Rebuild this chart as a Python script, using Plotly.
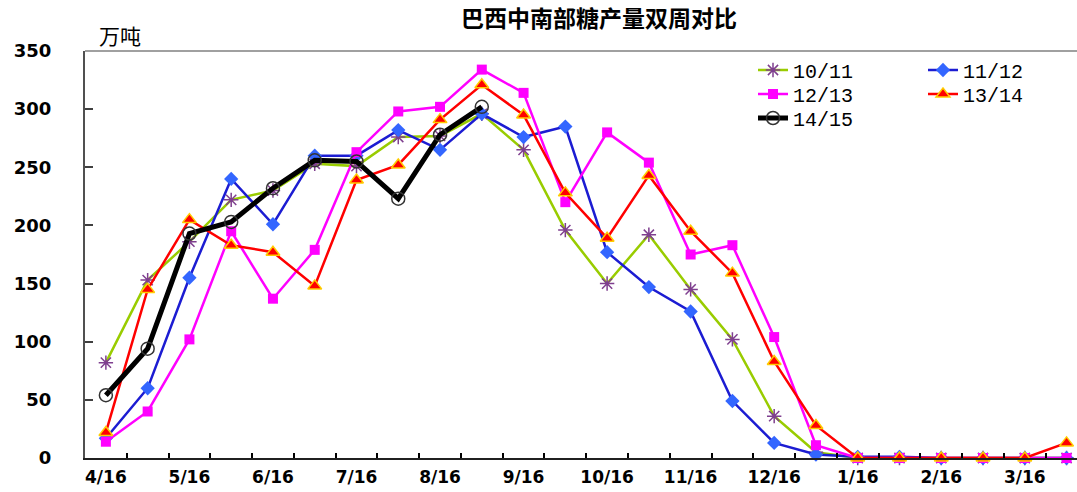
import plotly.graph_objects as go

# Biweekly sugar output in centre-south Brazil, 10k tonnes (万吨)
periods = list(range(24))  # two points per month, starting 4/16
month_labels = ["4/16", "5/16", "6/16", "7/16", "8/16", "9/16",
                "10/16", "11/16", "12/16", "1/16", "2/16", "3/16"]

s_10_11 = [82, 153, 186, 222, 230, 253, 251, 276, 277, 296, 265, 196,
           150, 192, 145, 102, 36, 5, 0, 0, 0, 0, 0, 0]
s_11_12 = [17, 60, 155, 240, 201, 260, 260, 282, 265, 296, 276, 285,
           177, 147, 126, 49, 13, 3, 1, 1, 0, 0, 0, 0]
s_12_13 = [14, 40, 102, 195, 137, 179, 263, 298, 302, 334, 314, 220,
           280, 254, 175, 183, 104, 11, 0, 0, 0, 0, 0, 0]
s_13_14 = [22, 145, 205, 183, 177, 148, 239, 252, 291, 321, 295, 228,
           189, 243, 195, 159, 83, 28, 0, 0, 0, 0, 0, 13]
s_14_15 = [54, 94, 193, 203, 232, 256, 255, 223, 278, 302]

W, H = 1077, 492
L, R, T, B = 85, 0, 51, 34
plot_w = W - L - R
plot_h = H - T - B


def px_x(px):
    return (px - L) / plot_w


def px_y(py):
    return (H - B - py) / plot_h


fig = go.Figure()

fig.add_trace(go.Scatter(
    x=periods, y=s_10_11, name="10/11", mode="lines+markers",
    line=dict(color="#99CC00", width=2.5),
    marker=dict(symbol="asterisk-open", size=12, color="#7F3F8F",
                line=dict(color="#7F3F8F", width=1.5)),
    legend="legend", cliponaxis=False))
fig.add_trace(go.Scatter(
    x=periods, y=s_11_12, name="11/12", mode="lines+markers",
    line=dict(color="#1C1CD2", width=2.5),
    marker=dict(symbol="diamond", size=11, color="#3366FF"),
    legend="legend", cliponaxis=False))
fig.add_trace(go.Scatter(
    x=periods, y=s_12_13, name="12/13", mode="lines+markers",
    line=dict(color="#FF00FF", width=2.5),
    marker=dict(symbol="square", size=10, color="#FF00FF"),
    legend="legend2", cliponaxis=False))
fig.add_trace(go.Scatter(
    x=periods, y=s_13_14, name="13/14", mode="lines+markers",
    line=dict(color="#FF0000", width=2.5),
    marker=dict(symbol="triangle-up", size=12, color="#FF0000",
                line=dict(color="#FFCC00", width=1.5)),
    legend="legend2", cliponaxis=False))
fig.add_trace(go.Scatter(
    x=periods[:len(s_14_15)], y=s_14_15, name="14/15", mode="lines+markers",
    line=dict(color="#000000", width=5),
    marker=dict(symbol="circle-open", size=13, color="#333333",
                line=dict(color="#333333", width=1.5)),
    legend="legend3", cliponaxis=False))

tick_font = dict(family="DejaVu Sans", size=18, color="#000000", weight="bold")
xtick_font = dict(family="DejaVu Sans", size=17, color="#000000", weight="bold")
legend_font = dict(family="Liberation Mono", size=20, color="#000000")


def legend_row(y_px):
    return dict(
        x=px_x(753), xanchor="left", y=px_y(y_px), yanchor="middle",
        orientation="h", font=legend_font, bgcolor="rgba(0,0,0,0)",
        entrywidth=125, entrywidthmode="pixels", itemwidth=30,
        traceorder="normal",
    )


fig.update_layout(
    width=W, height=H,
    margin=dict(l=L, r=R, t=T, b=B, pad=0, autoexpand=False),
    paper_bgcolor="white", plot_bgcolor="white",
    title=dict(text="<b>巴西中南部糖产量双周对比</b>",
               font=dict(family="Noto Sans CJK SC", size=23, color="#000000"),
               x=599 / W, xanchor="center", y=1 - 19 / H, yanchor="middle"),
    xaxis=dict(
        range=[-0.5, 23.25],
        tickmode="array",
        tickvals=periods[::2], ticktext=month_labels,
        ticks="inside", ticklen=0,
        minor=dict(tickmode="linear", tick0=0.5, dtick=1,
                   ticks="inside", ticklen=5, tickcolor="#000000",
                   tickwidth=1.5),
        showgrid=False, zeroline=False,
        showline=True, linecolor="#202020", linewidth=2,
        tickfont=xtick_font, ticklabelstandoff=3,
    ),
    yaxis=dict(
        range=[0, 350], dtick=50,
        ticks="inside", ticklen=8, tickcolor="#404040", tickwidth=1.5,
        showgrid=False, zeroline=False,
        showline=True, linecolor="#505050", linewidth=2,
        tickfont=tick_font, ticklabelstandoff=28,
    ),
    legend=legend_row(70),
    legend2=legend_row(94),
    legend3=legend_row(118),
    annotations=[dict(
        text="万吨", xref="paper", yref="paper",
        x=px_x(97), y=px_y(35), xanchor="left", yanchor="middle",
        showarrow=False,
        font=dict(family="Noto Sans CJK SC", size=21, color="#000000"),
    )],
    shapes=[dict(
        type="line", xref="paper", yref="paper",
        x0=0, x1=1, y0=1, y1=1,
        line=dict(color="#A0A0A0", width=2),
    )],
)

fig.write_html("out.html")
